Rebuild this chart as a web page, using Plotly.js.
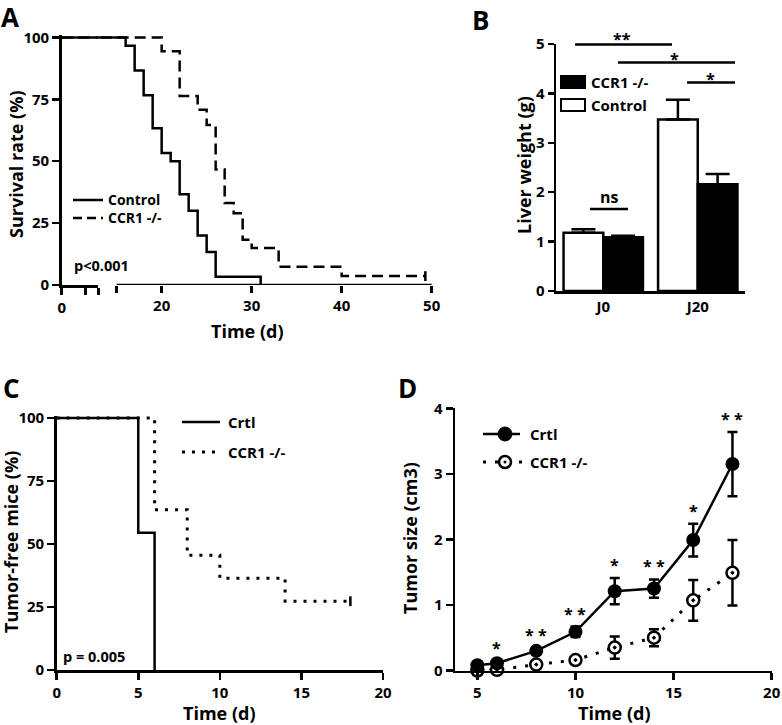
<!DOCTYPE html>
<html><head><meta charset="utf-8">
<script src="https://cdn.plot.ly/plotly-3.0.1.min.js"></script>
<style>html,body{margin:0;padding:0;background:#fff;} #chart{width:782px;height:725px;}</style>
</head><body><div id="chart"></div>
<script>
// ---------- Panel A : survival ----------
const survTimeControl = [0, 16, 17, 18, 19, 20, 21, 22, 23, 24, 25, 26, 31];
const survRateControl = [100, 96.7, 86.7, 76.7, 63.3, 53.3, 50, 36.7, 30, 20, 13.3, 3.3, 0];
const survTimeCCR1 = [0, 20, 22, 24, 25, 26, 27, 28, 29, 30, 33, 40, 49.3];
const survRateCCR1 = [100, 94.4, 76.4, 70.8, 64.6, 46.7, 33.1, 29.0, 18.3, 14.9, 7.4, 3.6, 3.6];
const survXTicksRight = [15, 20, 30, 40, 50];
const survXTickTextRight = ['', '20', '30', '40', '50'];
// ---------- Panel B : liver weight ----------
const liverGroups = ['J0', 'J20'];
const liverControl = [1.18, 3.47];
const liverControlSem = [0.07, 0.40];
const liverCCR1 = [1.09, 2.16];
const liverCCR1Sem = [0.03, 0.21];
// ---------- Panel C : tumor-free mice ----------
const tfTimeCrtl = [0, 5, 6];
const tfRateCrtl = [100, 54.5, 0];
const tfTimeCCR1 = [0, 6, 8, 10, 14, 18];
const tfRateCCR1 = [100, 63.6, 45.5, 36.4, 27.3, 27.3];
// ---------- Panel D : tumor size ----------
const tsTime = [5, 6, 8, 10, 12, 14, 16, 18];
const tsCrtl = [0.08, 0.11, 0.30, 0.59, 1.21, 1.25, 1.99, 3.15];
const tsCrtlSem = [0.03, 0.03, 0.04, 0.08, 0.20, 0.14, 0.25, 0.49];
const tsCCR1 = [0.00, 0.01, 0.09, 0.16, 0.35, 0.50, 1.07, 1.49];
const tsCCR1Sem = [0.02, 0.02, 0.03, 0.04, 0.17, 0.13, 0.31, 0.50];
const tsStars = ['', '*', '* *', '* *', '*', '* *', '*', '* *'];

const W = 782, H = 725;
const px = v => v / W;
const py = v => 1 - v / H;
const FAM = '"Open Sans", Lato, "DejaVu Sans", sans-serif';
const BLK = '#000000';
const TICKF = {family: FAM, size: 15, color: BLK, weight: 700};
const TITF = {family: FAM, size: 18, color: BLK, weight: 700};
const LEGF = {family: FAM, size: 15, color: BLK, weight: 700};
const PF = {family: FAM, size: 14.5, color: BLK, weight: 700};
const SF = {family: FAM, size: 16, color: BLK, weight: 700};
const LF = {family: FAM, size: 26, color: BLK, weight: 700};
const LW = 2.5;

function ax(extra) {
  return Object.assign({
    showline: true, linewidth: LW, linecolor: BLK, ticks: 'outside', ticklen: 7,
    tickwidth: LW, tickcolor: BLK, showgrid: false, zeroline: false,
    tickfont: TICKF, fixedrange: true, automargin: false
  }, extra);
}

const traces = [];
// Panel A (broken axis: the same data drawn on both x-axis pieces)
['x', 'x2'].forEach(xa => {
  traces.push({x: survTimeCCR1, y: survRateCCR1, xaxis: xa, yaxis: 'y', type: 'scatter', mode: 'lines',
    line: {shape: 'hv', color: BLK, width: LW, dash: '11px,6px'}, showlegend: false, hoverinfo: 'skip'});
  traces.push({x: survTimeControl, y: survRateControl, xaxis: xa, yaxis: 'y', type: 'scatter', mode: 'lines',
    line: {shape: 'hv', color: BLK, width: LW}, showlegend: false, hoverinfo: 'skip'});
});
traces.push({x: [survTimeCCR1[survTimeCCR1.length - 1]], y: [survRateCCR1[survRateCCR1.length - 1]], xaxis: 'x2', yaxis: 'y',
  type: 'scatter', mode: 'markers', marker: {symbol: 'line-ns-open', size: 7, color: BLK, line: {width: LW, color: BLK}},
  showlegend: false, hoverinfo: 'skip', cliponaxis: false});

// Panel B
traces.push({x: liverGroups, y: liverControl, type: 'bar', xaxis: 'x3', yaxis: 'y3', name: 'Control',
  marker: {color: '#ffffff', line: {color: BLK, width: LW}},
  error_y: {type: 'data', symmetric: false, array: liverControlSem, arrayminus: [0, 0], color: BLK, thickness: LW, width: 12},
  showlegend: false, hoverinfo: 'skip'});
traces.push({x: liverGroups, y: liverCCR1, type: 'bar', xaxis: 'x3', yaxis: 'y3', name: 'CCR1 -/-',
  marker: {color: BLK, line: {color: BLK, width: LW}},
  error_y: {type: 'data', symmetric: false, array: liverCCR1Sem, arrayminus: [0, 0], color: BLK, thickness: LW, width: 12},
  showlegend: false, hoverinfo: 'skip'});

// Panel C
traces.push({x: tfTimeCCR1, y: tfRateCCR1, xaxis: 'x4', yaxis: 'y4', type: 'scatter', mode: 'lines',
  line: {shape: 'hv', color: BLK, width: 3, dash: '3px,7px'}, showlegend: false, hoverinfo: 'skip'});
traces.push({x: tfTimeCrtl, y: tfRateCrtl, xaxis: 'x4', yaxis: 'y4', type: 'scatter', mode: 'lines',
  line: {shape: 'hv', color: BLK, width: LW}, showlegend: false, hoverinfo: 'skip'});
traces.push({x: [tfTimeCCR1[tfTimeCCR1.length - 1]], y: [tfRateCCR1[tfRateCCR1.length - 1]], xaxis: 'x4', yaxis: 'y4',
  type: 'scatter', mode: 'markers', marker: {symbol: 'line-ns-open', size: 7, color: BLK, line: {width: LW, color: BLK}},
  showlegend: false, hoverinfo: 'skip', cliponaxis: false});

// Panel D
traces.push({x: tsTime, y: tsCCR1, xaxis: 'x5', yaxis: 'y5', type: 'scatter', mode: 'lines+markers',
  line: {color: BLK, width: 3, dash: '3px,9px'},
  marker: {symbol: 'circle-dot', size: 12, color: '#ffffff', line: {color: BLK, width: 2.5}},
  error_y: {type: 'data', array: tsCCR1Sem, color: BLK, thickness: LW, width: 5},
  cliponaxis: false, showlegend: false, hoverinfo: 'skip'});
traces.push({x: tsTime, y: tsCrtl, xaxis: 'x5', yaxis: 'y5', type: 'scatter', mode: 'lines+markers',
  line: {color: BLK, width: LW},
  marker: {symbol: 'circle', size: 14, color: BLK},
  error_y: {type: 'data', array: tsCrtlSem, color: BLK, thickness: LW, width: 5},
  cliponaxis: false, showlegend: false, hoverinfo: 'skip'});

const annotations = [];
function txt(text, x, y, opts) {
  annotations.push(Object.assign({text: text, x: px(x), y: py(y), xref: 'paper', yref: 'paper', showarrow: false,
    xanchor: 'left', yanchor: 'middle', font: LEGF}, opts || {}));
}
// panel letters
txt('A', 10, 0, {xanchor: 'center', yanchor: 'top', font: LF, yshift: 3});
txt('B', 480, 0, {xanchor: 'center', yanchor: 'top', font: LF, yshift: 0});
txt('C', 11, 372, {xanchor: 'center', yanchor: 'top', font: LF, yshift: 4});
txt('D', 407, 372, {xanchor: 'center', yanchor: 'top', font: LF, yshift: 4});
// axis titles
txt('Survival rate (%)', 16, 164, {xanchor: 'center', textangle: -90, font: TITF});
txt('Time (d)', 247, 331, {xanchor: 'center', font: TITF});
txt('Liver weight (g)', 524, 165, {xanchor: 'center', textangle: -90, font: TITF});
txt('Tumor-free mice (%)', 11, 542, {xanchor: 'center', textangle: -90, font: TITF});
txt('Time (d)', 219, 713, {xanchor: 'center', font: TITF});
txt('Tumor size (cm3)', 410, 538, {xanchor: 'center', textangle: -90, font: TITF});
txt('Time (d)', 614, 713, {xanchor: 'center', font: TITF});
// Panel A texts
txt('Control<br>CCR1 -/-', 106, 209, {font: {family: FAM, size: 14, color: BLK, weight: 700}, align: 'left'});
txt('p<0.001', 72, 265, {font: PF});
// Panel B texts
txt('CCR1 -/-', 589, 82);
txt('Control', 589, 105);
txt('**', 622, 39, {xanchor: 'center', font: SF});
txt('*', 674, 59, {xanchor: 'center', font: SF});
txt('*', 710, 79, {xanchor: 'center', font: SF});
txt('ns', 609, 197, {xanchor: 'center', font: SF});
// Panel C texts
txt('Crtl', 226, 422);
txt('CCR1 -/-', 226, 452);
txt('p = 0.005', 61, 656, {font: PF});
// Panel D texts
txt('Crtl', 528, 434);
txt('CCR1 -/-', 528, 462);
tsStars.forEach((s, i) => {
  if (!s) return;
  annotations.push({text: s, x: tsTime[i], y: tsCrtl[i] + tsCrtlSem[i], xref: 'x5', yref: 'y5', showarrow: false,
    xanchor: 'center', yanchor: 'bottom', yshift: 0, font: SF});
});

const K = {color: BLK, width: LW};
const P = (x0, y0, x1, y1) => ({xref: 'paper', yref: 'paper', x0: px(x0), x1: px(x1), y0: py(y0), y1: py(y1)});
const shapes = [
  // Panel A right axis piece
  {type: 'line', xref: 'x2', yref: 'y', x0: 15, x1: 50, y0: 0, y1: 0, line: K},
  // Panel A legend
  Object.assign({type: 'line', line: K}, P(73, 200, 103, 200)),
  Object.assign({type: 'line', line: {color: BLK, width: LW, dash: '9px,5px'}}, P(73, 218, 103, 218)),
  // Panel B legend
  Object.assign({type: 'rect', fillcolor: BLK, line: {color: BLK, width: 2}}, P(561, 88, 585, 76)),
  Object.assign({type: 'rect', fillcolor: '#ffffff', line: {color: BLK, width: 2}}, P(561, 111, 585, 99)),
  // Panel B significance bars
  Object.assign({type: 'line', line: K}, P(575, 44.5, 672, 44.5)),
  Object.assign({type: 'line', line: K}, P(618, 62.5, 735, 62.5)),
  Object.assign({type: 'line', line: K}, P(687, 82.5, 735, 82.5)),
  Object.assign({type: 'line', line: K}, P(590, 209, 628, 209)),
  // Panel C legend
  Object.assign({type: 'line', line: K}, P(182, 422, 220, 422)),
  Object.assign({type: 'line', line: {color: BLK, width: 3, dash: '3px,7px'}}, P(182, 452, 220, 452)),
  // Panel D legend
  Object.assign({type: 'line', line: K}, P(483, 434, 520, 434)),
  Object.assign({type: 'circle', fillcolor: BLK, line: {color: BLK, width: 1}}, P(498, 441, 512, 427)),
  Object.assign({type: 'line', line: {color: BLK, width: 3, dash: '3px,9px'}}, P(483, 462, 522, 462)),
  Object.assign({type: 'circle', fillcolor: '#ffffff', line: {color: BLK, width: 2.5}}, P(499, 468, 511, 456)),
  Object.assign({type: 'circle', fillcolor: BLK, line: {color: BLK, width: 0}}, P(503.5, 463.5, 506.5, 460.5))
];

const layout = {
  width: W, height: H, margin: {l: 0, r: 0, t: 0, b: 0}, paper_bgcolor: '#ffffff', plot_bgcolor: 'rgba(0,0,0,0)',
  showlegend: false, font: {family: FAM, color: BLK},
  barmode: 'group', bargap: 0.16, bargroupgap: 0,
  // Panel A
  xaxis: ax({domain: [px(61.7), px(98.3)], range: [0, 4], anchor: 'y', tickvals: [0, 2.6, 4], ticktext: ['0', '', '']}),
  xaxis2: ax({domain: [px(98.3), px(433)], range: [12.96, 50.15], anchor: 'y', showline: false,
    tickvals: survXTicksRight, ticktext: survXTickTextRight}),
  yaxis: ax({domain: [1 - 285 / H, 1 - 35 / H], range: [0, 101], anchor: 'x', tickvals: [0, 25, 50, 75, 100]}),
  // Panel B
  xaxis3: ax({domain: [px(556), px(745)], range: [-0.5, 1.5], anchor: 'y3', type: 'category', ticks: ''}),
  yaxis3: ax({domain: [1 - 291 / H, 1 - 44 / H], range: [0, 5], anchor: 'x3', tickvals: [0, 1, 2, 3, 4, 5], ticklen: 6}),
  // Panel C
  xaxis4: ax({domain: [px(56.7), px(383)], range: [0, 20], anchor: 'y4', tickvals: [0, 5, 10, 15, 20]}),
  yaxis4: ax({domain: [1 - 670 / H, 1 - 415.5 / H], range: [0, 101], anchor: 'x4', tickvals: [0, 25, 50, 75, 100]}),
  // Panel D
  xaxis5: ax({domain: [px(455), px(771.7)], range: [3.86, 20], anchor: 'y5', tickvals: [5, 10, 15, 20]}),
  yaxis5: ax({domain: [1 - 670.5 / H, 1 - 408.3 / H], range: [0, 4], anchor: 'x5', tickvals: [0, 1, 2, 3, 4]}),
  annotations: annotations,
  shapes: shapes
};

Plotly.newPlot('chart', traces, layout, {staticPlot: true, displayModeBar: false});
</script>
</body></html>
